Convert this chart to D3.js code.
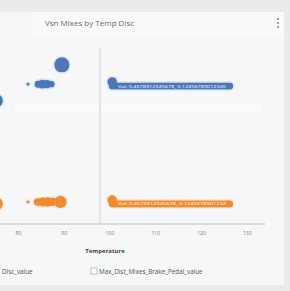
<!DOCTYPE html>
<html>
<head>
<meta charset="utf-8">
<script src="https://cdn.jsdelivr.net/npm/d3@7"></script>
<style>
  body { margin: 0; background: #ebebeb; font-family: "Open Sans", "DejaVu Sans", sans-serif; }
  svg { display: block; }
</style>
</head>
<body>
<div id="chart"></div>
<script>
// chart data
var title = "Vsn Mixes by Temp Disc";
var xTicks = [80, 90, 100, 110, 120, 130];
var refLine = 97.9;

// blue series: scattered bubbles on the left
var blueX = [75.3, 82.2, 84.4, 85.3, 86.3, 87.3, 89.6];
var blueY = [67, 76, 76, 76, 76, 76, 86.5];
var blueSize = [40, 2, 12, 18, 16, 10, 55];

// orange series: scattered bubbles on the left
var orangeX = [75.3, 82.2, 84.3, 85.4, 86.5, 87.6, 89.3];
var orangeY = [11, 12, 12, 12, 12, 12, 12];
var orangeSize = [40, 2, 14, 20, 22, 16, 36];

// the long dense run of readings on the right (same x for both series)
var runX = [100.6, 101.2, 101.9, 102.5, 103.2, 103.8, 104.5, 105.1, 105.8, 106.4,
  107.1, 107.7, 108.4, 109.0, 109.7, 110.3, 111.0, 111.6, 112.3, 112.9,
  113.6, 114.2, 114.9, 115.5, 116.2, 116.8, 117.5, 118.1, 118.8, 119.4,
  120.1, 120.7, 121.4, 122.0, 122.7, 123.3, 124.0, 124.6, 125.3, 125.9, 126.3];
var blueRunY = 75;
var orangeRunY = 10.9;
var runSize = 11;
var runStart = { x: 100.6, blueY: 77.2, orangeY: 13, size: 22 };

var blueLabel = "Val: 0.4578912345678, 0.12456789012345";
var orangeLabel = "Val: 0.4578912345678, 0.1245678901234";
var legendNames = ["Disc_value", "Max_Dist_Mixes_Brake_Pedal_value"];

var W = 290, H = 291;
var blue = "#4b77b6", orange = "#f08c2e";

var svg = d3.select("#chart").append("svg")
  .attr("width", W)
  .attr("height", H);

// panel
svg.append("rect").attr("x", 0).attr("y", 12).attr("width", 284).attr("height", 273).attr("fill", "#f6f7f8");
svg.append("rect").attr("x", 32).attr("y", 12).attr("width", 252).attr("height", 24).attr("fill", "#fafafa");

svg.append("text")
  .attr("x", 45).attr("y", 26)
  .style("font-size", "8px")
  .style("fill", "#6d6d6d")
  .text(title);

// vertical ellipsis menu
[19, 23, 27].forEach(function(cy) {
  svg.append("circle").attr("cx", 278).attr("cy", cy).attr("r", 0.9).attr("fill", "#777");
});

var x = d3.scaleLinear().domain([76.07, 134]).range([0, 265]);
var y = d3.scaleLinear().domain([0, 100]).range([224, 40]);
var r = d3.scaleSqrt().domain([0, 55]).range([0, 7.5]);

// light band between the rows
svg.append("rect").attr("x", 15).attr("y", 103).attr("width", 247).attr("height", 8).attr("fill", "#fbfbfc");

// reference line
svg.append("line")
  .attr("x1", x(refLine)).attr("x2", x(refLine))
  .attr("y1", 48).attr("y2", 224)
  .attr("stroke", "#e0e0e0").attr("stroke-width", 1.5);

// x axis
var xAxis = svg.append("g")
  .attr("transform", "translate(0,224)")
  .call(d3.axisBottom(x).tickValues(xTicks).tickSize(0).tickPadding(7));
xAxis.select(".domain").attr("stroke", "#bdbdbd").attr("d", "M0,0H265");
xAxis.selectAll("text").style("font-size", "5px").style("fill", "#777").style("font-family", "Open Sans, sans-serif");

svg.append("text")
  .attr("x", 105).attr("y", 253)
  .attr("text-anchor", "middle")
  .style("font-size", "6px")
  .style("font-weight", "bold")
  .style("fill", "#444")
  .text("Temperature");

function drawSeries(pts, color) {
  var g = svg.append("g");
  g.selectAll("circle.halo")
    .data(pts).enter().append("circle")
    .attr("cx", function(d) { return x(d.x); })
    .attr("cy", function(d) { return y(d.y); })
    .attr("r", function(d) { return r(d.s) + 1.5; })
    .attr("fill", color).attr("opacity", 0.12);
  g.selectAll("circle.dot")
    .data(pts).enter().append("circle")
    .attr("cx", function(d) { return x(d.x); })
    .attr("cy", function(d) { return y(d.y); })
    .attr("r", function(d) { return r(d.s); })
    .attr("fill", color);
}

function points(xs, ys, ss) {
  return xs.map(function(d, i) { return { x: d, y: ys[i], s: ss[i] }; });
}
function runPoints(runY, startY) {
  var pts = runX.map(function(d) { return { x: d, y: runY, s: runSize }; });
  pts.unshift({ x: runStart.x, y: startY, s: runStart.size });
  return pts;
}

drawSeries(points(blueX, blueY, blueSize), blue);
drawSeries(runPoints(blueRunY, runStart.blueY), blue);
drawSeries(points(orangeX, orangeY, orangeSize), orange);
drawSeries(runPoints(orangeRunY, runStart.orangeY), orange);

svg.append("text")
  .attr("x", 118).attr("y", y(blueRunY) + 1.5)
  .attr("textLength", 108).attr("lengthAdjust", "spacingAndGlyphs")
  .style("font-size", "4.3px").style("fill", "#fff")
  .text(blueLabel);
svg.append("text")
  .attr("x", 118).attr("y", y(orangeRunY) + 1.5)
  .attr("textLength", 108).attr("lengthAdjust", "spacingAndGlyphs")
  .style("font-size", "4.3px").style("fill", "#fff")
  .text(orangeLabel);

// legend
svg.append("text")
  .attr("x", 2).attr("y", 274)
  .style("font-size", "6.3px").style("fill", "#555")
  .text(legendNames[0]);
svg.append("rect")
  .attr("x", 91).attr("y", 268).attr("width", 6).attr("height", 6)
  .attr("fill", "#fff").attr("stroke", "#999").attr("stroke-width", 0.6);
svg.append("text")
  .attr("x", 99).attr("y", 274)
  .style("font-size", "6.3px").style("fill", "#555")
  .text(legendNames[1]);
</script>
</body>
</html>
